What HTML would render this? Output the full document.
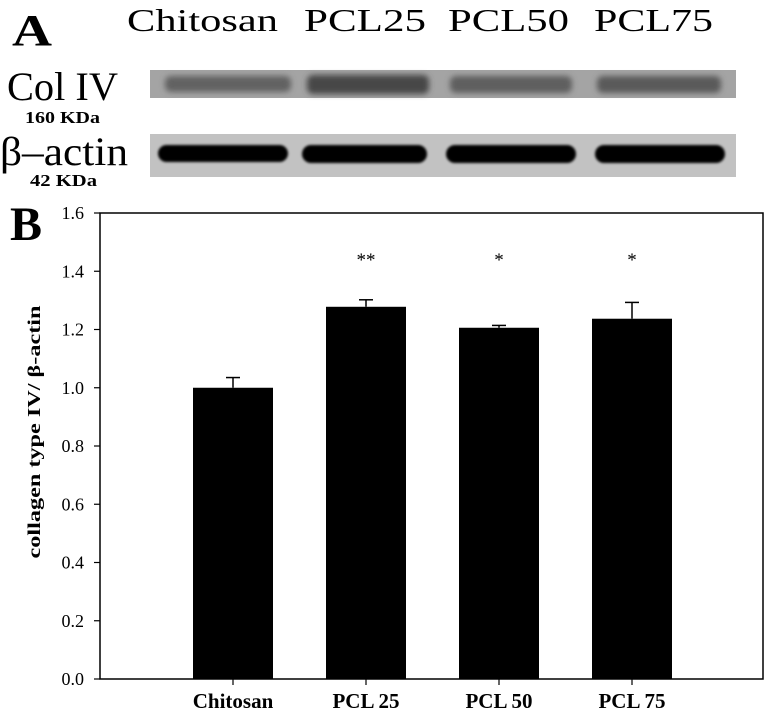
<!DOCTYPE html>
<html><head><meta charset="utf-8"><style>
html,body{margin:0;padding:0;background:#fff;}
svg{display:block;font-family:"Liberation Serif",serif;}
</style></head><body>
<svg id="fig" width="765" height="715" viewBox="0 0 765 715">
<defs>
<filter id="blur2" x="-20%" y="-80%" width="140%" height="260%"><feGaussianBlur stdDeviation="3"/></filter>
<filter id="blur1" x="-20%" y="-50%" width="140%" height="200%"><feGaussianBlur stdDeviation="1.2"/></filter>
</defs>
<g>
<text x="12" y="45" font-size="44" font-weight="bold" textLength="40" lengthAdjust="spacingAndGlyphs">A</text>
<text x="127" y="31" font-size="32" textLength="151" lengthAdjust="spacingAndGlyphs">Chitosan</text>
<text x="304" y="31" font-size="32" textLength="122" lengthAdjust="spacingAndGlyphs">PCL25</text>
<text x="448" y="31" font-size="32" textLength="121" lengthAdjust="spacingAndGlyphs">PCL50</text>
<text x="594" y="31" font-size="32" textLength="119" lengthAdjust="spacingAndGlyphs">PCL75</text>
<text x="7" y="100" font-size="40" textLength="111" lengthAdjust="spacingAndGlyphs">Col IV</text>
<text x="25" y="123" font-size="17" font-weight="bold" textLength="75" lengthAdjust="spacingAndGlyphs">160 KDa</text>
<text x="0" y="165" font-size="40" textLength="128" lengthAdjust="spacingAndGlyphs">β–actin</text>
<text x="30" y="186" font-size="17" font-weight="bold" textLength="67" lengthAdjust="spacingAndGlyphs">42 KDa</text>
<g>
<rect x="150" y="70" width="586" height="28" fill="#a4a4a4"/>
<g filter="url(#blur2)">
<rect x="165" y="76" width="126" height="16" rx="6" fill="#626262"/>
<rect x="307" y="75" width="122" height="19" rx="6" fill="#474747"/>
<rect x="450" y="76" width="122" height="17" rx="6" fill="#5e5e5e"/>
<rect x="597" y="76" width="124" height="17" rx="6" fill="#5a5a5a"/>
</g>
</g>
<g>
<rect x="150" y="134" width="586" height="43" fill="#c2c2c2"/>
<g filter="url(#blur1)" fill="#000">
<rect x="158" y="145" width="130" height="17" rx="8.5"/>
<rect x="302" y="145" width="125" height="18" rx="9"/>
<rect x="446" y="145" width="130" height="18" rx="9"/>
<rect x="595" y="145" width="130" height="18" rx="9"/>
</g>
</g>
</g>
<text x="10" y="240" font-size="48" font-weight="bold">B</text>
<g id="chart"></g>
</svg>
<script>
const categories = ["Chitosan", "PCL 25", "PCL 50", "PCL 75"];
const values = [1.0, 1.278, 1.206, 1.237];
const errors = [0.035, 0.024, 0.008, 0.056];
const stars = ["", "**", "*", "*"];
const yTicks = ["0.0", "0.2", "0.4", "0.6", "0.8", "1.0", "1.2", "1.4", "1.6"];

const NS = "http://www.w3.org/2000/svg";
const g = document.getElementById("chart");
const X0 = 100, X1 = 763, Y0 = 679, Y1 = 213, YMAX = 1.6;
const y = v => Y0 - (v / YMAX) * (Y0 - Y1);
const xc = i => 233 + i * 133;
const BW = 80;
function mk(tag, attrs) {
  const e = document.createElementNS(NS, tag);
  for (const k in attrs) e.setAttribute(k, attrs[k]);
  g.appendChild(e);
  return e;
}
let fr = mk("rect", {x: X0, y: Y1, width: X1 - X0, height: Y0 - Y1, fill: "none", stroke: "#000", "stroke-width": 1.5});


yTicks.forEach(t => {
  const v = parseFloat(t);
  let tl = mk("line", {x1: X0 - 6, x2: X0, y1: y(v), y2: y(v), stroke: "#000", "stroke-width": 1.2});
  
  
  let tx = mk("text", {x: X0 - 16, y: y(v) + 6, "font-size": 18, "text-anchor": "end"});
  tx.textContent = t;
  
  
});
let yt = mk("text", {x: 0, y: 0, "font-size": 18, "font-weight": "bold", "text-anchor": "middle", textLength: 253, lengthAdjust: "spacingAndGlyphs", transform: "translate(40,432) rotate(-90)"});
yt.textContent = "collagen type IV/ β-actin";


categories.forEach((c, i) => {
  const cx = xc(i);
  let b = mk("rect", {x: cx - BW / 2, y: y(values[i]), width: BW, height: Y0 - y(values[i]), fill: "#000"});
  
  
  const top = y(values[i] + errors[i]);
  let e1 = mk("line", {x1: cx, x2: cx, y1: y(values[i]), y2: top, stroke: "#000", "stroke-width": 1.5});
  
  
  let e2 = mk("line", {x1: cx - 7, x2: cx + 7, y1: top, y2: top, stroke: "#000", "stroke-width": 1.5});
  
  
  let tk = mk("line", {x1: cx, x2: cx, y1: Y0, y2: Y0 + 6, stroke: "#000", "stroke-width": 1.2});
  
  
  let lb = mk("text", {x: cx, y: 708, "font-size": 21, "font-weight": "bold", "text-anchor": "middle"});
  lb.textContent = c;
  
  
  if (stars[i]) {
    let s = mk("text", {x: cx, y: 266, "font-size": 19, "text-anchor": "middle"});
    s.textContent = stars[i];
    
    
  }
});
</script>
</body></html>
